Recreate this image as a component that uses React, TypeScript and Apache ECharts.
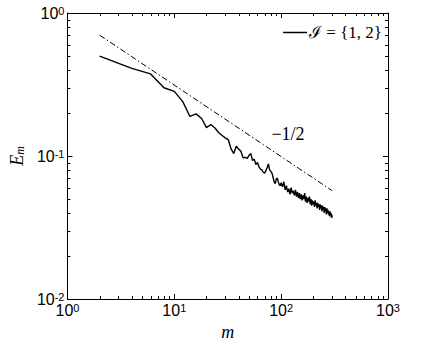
import React, { useEffect, useRef } from "react";
import * as echarts from "echarts";

const mValues = [
  2, 4, 6, 8, 10, 12, 14, 16, 18, 20, 22, 24, 26, 28, 30, 32, 34, 36, 38, 40,
  42, 44, 46, 48, 50, 52, 54, 56, 58, 60, 62, 64, 66, 68, 70, 72, 74, 76, 78, 80,
  82, 84, 86, 88, 90, 92, 94, 96, 98, 100, 103, 106, 109, 112, 115, 118, 121, 124, 127, 130,
  133, 136, 139, 142, 145, 148, 151, 154, 157, 160, 163, 166, 169, 172, 175, 178, 181, 184, 187, 190,
  193, 196, 199, 202, 205, 208, 211, 214, 217, 220, 223, 226, 229, 232, 235, 238, 241, 244, 247, 250,
  253, 256, 259, 262, 265, 268, 271, 274, 277, 280, 283, 286, 289, 292, 295, 298, 300,
];
const emValues = [
  0.5, 0.41, 0.375, 0.3, 0.283, 0.24, 0.189, 0.197, 0.183, 0.158, 0.166, 0.157, 0.146, 0.139, 0.134, 0.13, 0.112, 0.104, 0.117, 0.112,
  0.108, 0.097, 0.098, 0.096, 0.101, 0.104, 0.093, 0.095, 0.087, 0.09, 0.084, 0.081, 0.08, 0.077, 0.076, 0.079, 0.083, 0.088, 0.08, 0.078,
  0.076, 0.071, 0.066, 0.064, 0.069, 0.07, 0.066, 0.063, 0.062, 0.065, 0.061, 0.066, 0.058, 0.062, 0.056, 0.059, 0.054, 0.06, 0.055, 0.057,
  0.053, 0.058, 0.052, 0.056, 0.051, 0.055, 0.05, 0.054, 0.049, 0.053, 0.05, 0.055, 0.048, 0.052, 0.047, 0.051, 0.048, 0.052, 0.046, 0.05,
  0.045, 0.049, 0.046, 0.048, 0.044, 0.049, 0.045, 0.047, 0.043, 0.047, 0.044, 0.046, 0.042, 0.046, 0.043, 0.045, 0.041, 0.045, 0.042, 0.044,
  0.04, 0.044, 0.041, 0.043, 0.039, 0.043, 0.04, 0.042, 0.039, 0.041, 0.038, 0.041, 0.039, 0.04, 0.037, 0.039, 0.037,
];
const refM = [2, 300];
const refE = [0.7, 0.0572];

const xMinor: number[] = [];
[1, 10, 100].forEach((d) => {
  for (let j = 2; j <= 9; j++) xMinor.push(j * d);
});
const yMinor: number[] = [];
[0.01, 0.1].forEach((d) => {
  for (let j = 2; j <= 9; j++) yMinor.push(+(j * d).toFixed(3));
});

const labelFont = "'Liberation Sans', Arial, sans-serif";
const serif = "'Liberation Serif', 'DejaVu Serif', serif";

function powLabel(v: number) {
  const e = Math.round(Math.log10(v));
  return `{b|10}{s|${e}}`;
}

const rich = {
  b: { fontSize: 16, fontFamily: labelFont, color: "#000", lineHeight: 16 },
  s: { fontSize: 11, fontFamily: labelFont, color: "#000", verticalAlign: "top", lineHeight: 8 },
};

export default function App() {
  const ref = useRef<HTMLDivElement>(null);
  useEffect(() => {
    if (!ref.current) return;
    const chart = echarts.init(ref.current, undefined, { renderer: "svg" });
    const axisLine = { show: true, lineStyle: { color: "#000", width: 1 } };
    const tick = { show: true, inside: true, length: 5, lineStyle: { color: "#000", width: 1 } };
    const minorData: any[] = [];
    xMinor.forEach((v) => minorData.push([v, 0.1, 0]));
    yMinor.forEach((v) => minorData.push([10, v, 1]));
    chart.setOption({
      animation: false,
      backgroundColor: "#fff",
      grid: { left: 62, right: 33, top: 13, bottom: 55 },
      legend: {
        data: [{ name: "ℐ = {1, 2}", icon: "rect" }],
        right: 34,
        top: 19,
        itemWidth: 24,
        itemHeight: 1.5,
        itemGap: 4,
        textStyle: { fontFamily: serif, fontSize: 17, color: "#000", padding: [0, 0, 0, -3] },
      },
      xAxis: [
        {
          type: "log",
          min: 1,
          max: 1000,
          logBase: 10,
          axisLine,
          axisTick: tick,
          splitLine: { show: false },
          axisLabel: { formatter: powLabel, rich, margin: 3, color: "#000" },
          name: "m",
          nameLocation: "middle",
          nameGap: 16,
          nameTextStyle: { fontFamily: serif, fontStyle: "italic", fontSize: 18, color: "#000" },
        },
        {
          type: "log",
          min: 1,
          max: 1000,
          position: "top",
          axisLine,
          axisTick: tick,
          splitLine: { show: false },
          axisLabel: { show: false },
        },
      ],
      yAxis: [
        {
          type: "log",
          min: 0.01,
          max: 1,
          logBase: 10,
          axisLine,
          axisTick: tick,
          splitLine: { show: false },
          axisLabel: { formatter: powLabel, rich, margin: 3, color: "#000" },
          name: "{e|E}{sub|m}",
          nameLocation: "middle",
          nameGap: 36,
          nameRotate: 90,
          nameTextStyle: {
            rich: {
              e: { fontFamily: serif, fontStyle: "italic", fontSize: 18, color: "#000", lineHeight: 18 },
              sub: { fontFamily: serif, fontStyle: "italic", fontSize: 12, color: "#000", verticalAlign: "bottom", lineHeight: 10 },
            },
          },
        },
        {
          type: "log",
          min: 0.01,
          max: 1,
          position: "right",
          axisLine,
          axisTick: tick,
          splitLine: { show: false },
          axisLabel: { show: false },
        },
      ],
      graphic: [
        {
          type: "text",
          x: 288,
          y: 134,
          style: {
            text: "−1/2",
            fontFamily: serif,
            fontSize: 18,
            fill: "#000",
            textAlign: "center",
            textVerticalAlign: "middle",
          },
        },
      ],
      series: [
        {
          name: "ℐ = {1, 2}",
          type: "line",
          xAxisIndex: 0,
          yAxisIndex: 0,
          data: mValues.map((m, i) => [m, emValues[i]]),
          showSymbol: false,
          symbol: "none",
          lineStyle: { color: "#000", width: 1.4 },
          itemStyle: { color: "#000" },
        },
        {
          name: "ref",
          type: "line",
          xAxisIndex: 0,
          yAxisIndex: 0,
          data: refM.map((m, i) => [m, refE[i]]),
          showSymbol: false,
          symbol: "none",
          lineStyle: { color: "#000", width: 1, type: [6, 2.5, 1.5, 2.5] },
        },
        {
          name: "minor",
          type: "custom",
          xAxisIndex: 0,
          yAxisIndex: 0,
          silent: true,
          data: minorData,
          renderItem: (params: any, api: any) => {
            const cs = params.coordSys;
            const kind = api.value(2);
            const p = api.coord([api.value(0), api.value(1)]);
            const st = { stroke: "#000", lineWidth: 1 };
            const L = 3;
            if (kind === 0) {
              const x = Math.round(p[0]) + 0.5;
              return {
                type: "group",
                children: [
                  { type: "line", shape: { x1: x, y1: cs.y + cs.height, x2: x, y2: cs.y + cs.height - L }, style: st },
                  { type: "line", shape: { x1: x, y1: cs.y, x2: x, y2: cs.y + L }, style: st },
                ],
              };
            }
            const y = Math.round(p[1]) + 0.5;
            return {
              type: "group",
              children: [
                { type: "line", shape: { x1: cs.x, y1: y, x2: cs.x + L, y2: y }, style: st },
                { type: "line", shape: { x1: cs.x + cs.width, y1: y, x2: cs.x + cs.width - L, y2: y }, style: st },
              ],
            };
          },
        },
      ],
    });
    return () => chart.dispose();
  }, []);
  return <div ref={ref} style={{ position: "absolute", left: 0, top: 0, width: 421, height: 354 }} />;
}
